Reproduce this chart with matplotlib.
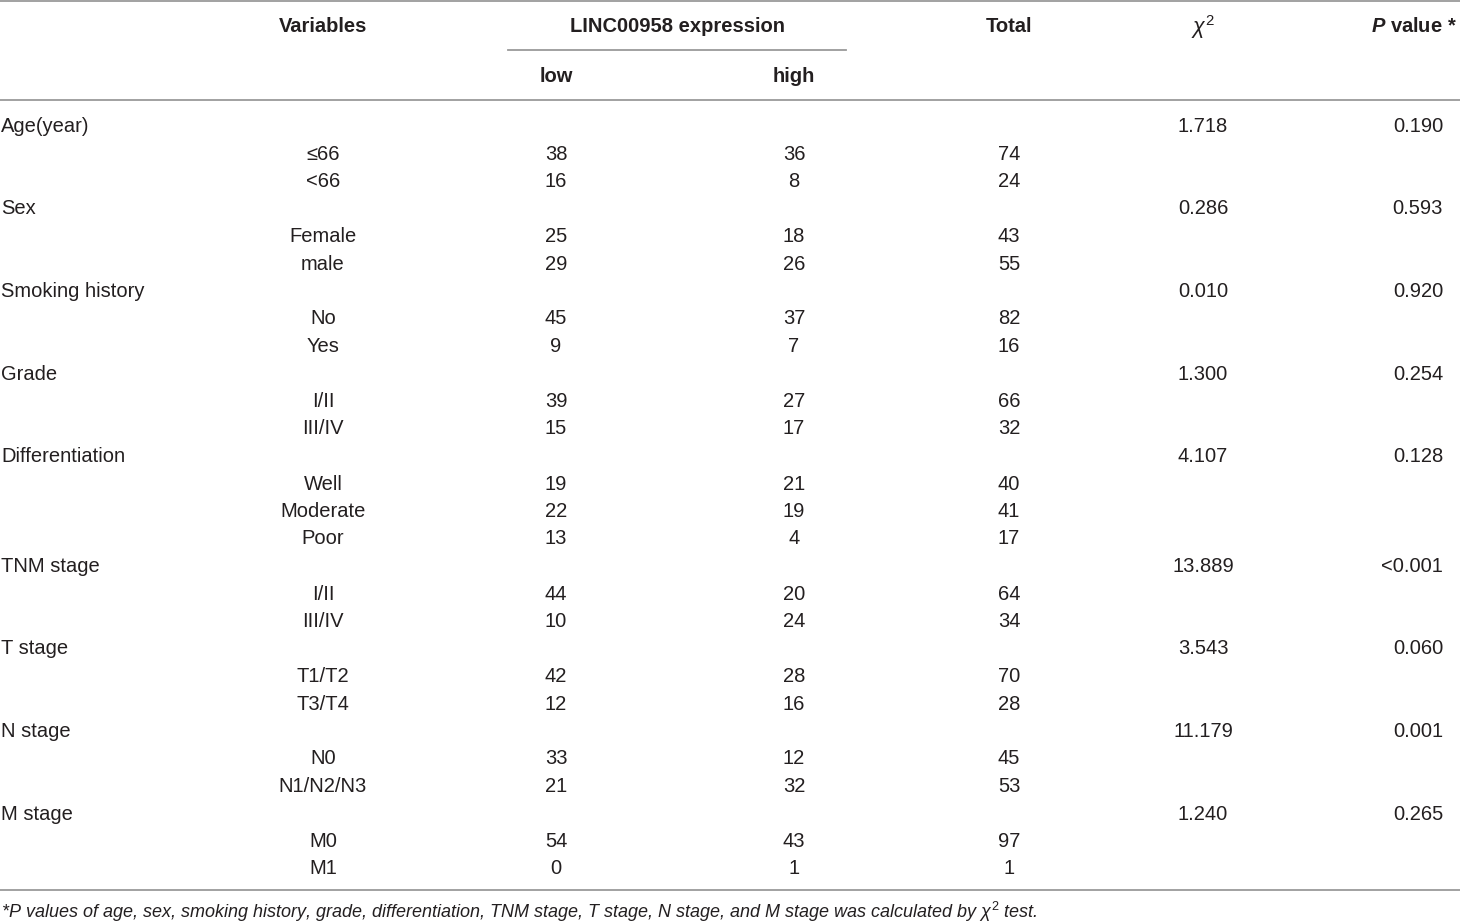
import matplotlib
matplotlib.use("Agg")
import matplotlib.pyplot as plt

# table data
variables = ["Age(year)", "Sex", "Smoking history", "Grade", "Differentiation",
             "TNM stage", "T stage", "N stage", "M stage"]
subgroups = [["≤66", "<66"], ["Female", "male"], ["No", "Yes"], ["I/II", "III/IV"],
             ["Well", "Moderate", "Poor"], ["I/II", "III/IV"], ["T1/T2", "T3/T4"],
             ["N0", "N1/N2/N3"], ["M0", "M1"]]
low = [[38, 16], [25, 29], [45, 9], [39, 15], [19, 22, 13], [44, 10], [42, 12], [33, 21], [54, 0]]
high = [[36, 8], [18, 26], [37, 7], [27, 17], [21, 19, 4], [20, 24], [28, 16], [12, 32], [43, 1]]
total = [[74, 24], [43, 55], [82, 16], [66, 32], [40, 41, 17], [64, 34], [70, 28], [45, 53], [97, 1]]
chi2 = ["1.718", "0.286", "0.010", "1.300", "4.107", "13.889", "3.543", "11.179", "1.240"]
pvals = ["0.190", "0.593", "0.920", "0.254", "0.128", "<0.001", "0.060", "0.001", "0.265"]
footnote = ("*$P$ values of age, sex, smoking history, grade, differentiation, TNM stage, "
            "T stage, N stage, and M stage was calculated by $\\chi^2$ test.")

fam = "Liberation Sans"
plt.rcParams['font.family'] = [fam, 'DejaVu Sans']
plt.rcParams['mathtext.fontset'] = 'custom'
plt.rcParams['mathtext.rm'] = fam
plt.rcParams['mathtext.it'] = fam + ':italic'
plt.rcParams['mathtext.bf'] = fam + ':bold'
plt.rcParams['mathtext.bfit'] = fam + ':italic:bold'

fig = plt.figure(figsize=(14.6, 9.23), dpi=100)
ax = fig.add_axes([0, 0, 1, 1])
ax.set_xlim(0, 1460)
ax.set_ylim(923, 0)
ax.axis("off")

fs = 14.5
txt = "#231f20"
line_c = "#9a9a9a"

# rules
ax.plot([0, 1460], [1, 1], color=line_c, lw=1.3)
ax.plot([508, 846], [50, 50], color=line_c, lw=1.3)
ax.plot([0, 1460], [100, 100], color=line_c, lw=1.3)
ax.plot([0, 1460], [890, 890], color=line_c, lw=1.3)

# header
hk = dict(fontsize=fs, fontweight="bold", color=txt, va="center")
ax.text(323, 27, "Variables", ha="center", **hk)
ax.text(677, 27, "LINC00958 expression", ha="center", **hk)
ax.text(556, 77, "low", ha="center", **hk)
ax.text(794, 77, "high", ha="center", **hk)
ax.text(1009, 27, "Total", ha="center", **hk)
ax.text(1203, 27, "$\\chi^2$", ha="center", fontsize=fs + 1, color=txt, va="center")
ax.text(1457, 27, "$\\mathbfit{P}$ value *", ha="right", **hk)

# body
bk = dict(fontsize=fs, color=txt, va="center")
step = 27.5
y = 126.5
for i, var in enumerate(variables):
    ax.text(1, y, var, ha="left", **bk)
    ax.text(1203, y, chi2[i], ha="center", **bk)
    ax.text(1443, y, pvals[i], ha="right", **bk)
    y += step
    for j, sg in enumerate(subgroups[i]):
        ax.text(323, y, sg, ha="center", **bk)
        ax.text(556, y, str(low[i][j]), ha="center", **bk)
        ax.text(794, y, str(high[i][j]), ha="center", **bk)
        ax.text(1009, y, str(total[i][j]), ha="center", **bk)
        y += step

ax.text(1, 912, footnote, ha="left", va="center", fontsize=13, style="italic", color=txt)

fig.savefig("out.png", dpi=100)
